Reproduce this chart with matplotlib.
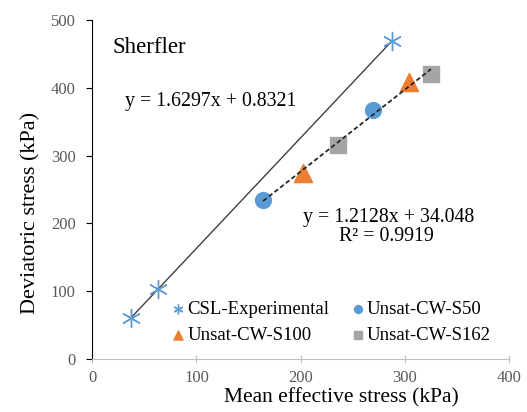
import numpy as np
import matplotlib
matplotlib.use("Agg")
import matplotlib.pyplot as plt

plt.rcParams["font.family"] = ["Liberation Serif", "DejaVu Serif"]

# critical state line from experiments
csl_p = [37, 63, 288]
csl_q = [60, 103, 470]

# unsaturated tests at three suctions
s50_p = [164, 269]
s50_q = [235, 367]
s100_p = [202, 304]
s100_q = [275, 409]
s162_p = [236, 325]
s162_q = [316, 420]

BLUE = "#5B9BD5"
ORANGE = "#ED7D31"
GREY = "#A5A5A5"
TICK_GREY = "#595959"

fig = plt.figure(figsize=(5.27, 4.12), dpi=100)
ax = fig.add_axes([0.175, 0.129, 0.791, 0.822])

# trend lines
b1, a1 = np.polyfit(csl_p, csl_q, 1)
xs = np.array([min(csl_p), max(csl_p)])
ax.plot(xs, b1 * xs + a1, color="#404040", lw=1.0, zorder=1)

unsat_p = np.array(s50_p + s100_p + s162_p)
unsat_q = np.array(s50_q + s100_q + s162_q)
b2, a2 = np.polyfit(unsat_p, unsat_q, 1)
xu = np.array([unsat_p.min(), unsat_p.max()])
ax.plot(xu, b2 * xu + a2, color="#262626", lw=1.3, ls=(0, (2.5, 1.5)), zorder=3)

h_csl = ax.scatter(csl_p, csl_q, marker=(6, 2, 0), s=170, color=BLUE, lw=1.0,
                   label="CSL-Experimental", zorder=2)
h50 = ax.scatter(s50_p, s50_q, marker="o", s=130, color=BLUE,
                 label="Unsat-CW-S50", zorder=2)
h100 = ax.scatter(s100_p, s100_q, marker="^", s=170, color=ORANGE,
                  label="Unsat-CW-S100", zorder=2)
h162 = ax.scatter(s162_p, s162_q, marker="s", s=130, color=GREY,
                  label="Unsat-CW-S162", zorder=2)

ax.text(19, 460, "Sherfler", fontsize=16.5, va="center", ha="left")
ax.text(31, 380, "y = 1.6297x + 0.8321", fontsize=14.3, va="center", ha="left")
ax.text(284, 209, "y = 1.2128x + 34.048", fontsize=14.3, va="center", ha="center")
ax.text(282, 180, "R² = 0.9919", fontsize=14.3, va="center", ha="center")

ax.set_xlim(0, 400)
ax.set_ylim(0, 500)
ax.set_xticks(range(0, 401, 100))
ax.set_yticks(range(0, 501, 100))
ax.tick_params(labelsize=12, colors=TICK_GREY, length=4, width=0.8)
ax.tick_params(axis="x", direction="inout", length=6, pad=5)
ax.tick_params(axis="y", pad=8)
for side in ("top", "right"):
    ax.spines[side].set_visible(False)
ax.spines["left"].set_color("black")
ax.spines["bottom"].set_color("#BFBFBF")
ax.tick_params(axis="x", color="#BFBFBF")
ax.tick_params(axis="y", color="black")

ax.set_xlabel("Mean effective stress (kPa)", fontsize=15.5, labelpad=0)
ax.xaxis.set_label_coords(0.597, -0.085)
ax.set_ylabel("Deviatoric stress (kPa)", fontsize=16)
ax.yaxis.set_label_coords(-0.125, 0.43)

# row-wise order: CSL, S50 / S100, S162
ax.legend([h_csl, h100, h50, h162],
          ["CSL-Experimental", "Unsat-CW-S100", "Unsat-CW-S50", "Unsat-CW-S162"],
          loc="upper left", bbox_to_anchor=(0.306, 0.288),
          bbox_transform=fig.transFigure, ncol=2, frameon=False, fontsize=13.5,
          handletextpad=0.0, columnspacing=1.0, labelspacing=0.45,
          handlelength=1.0, markerscale=0.5, borderaxespad=0)

fig.savefig("out.png", dpi=100)
